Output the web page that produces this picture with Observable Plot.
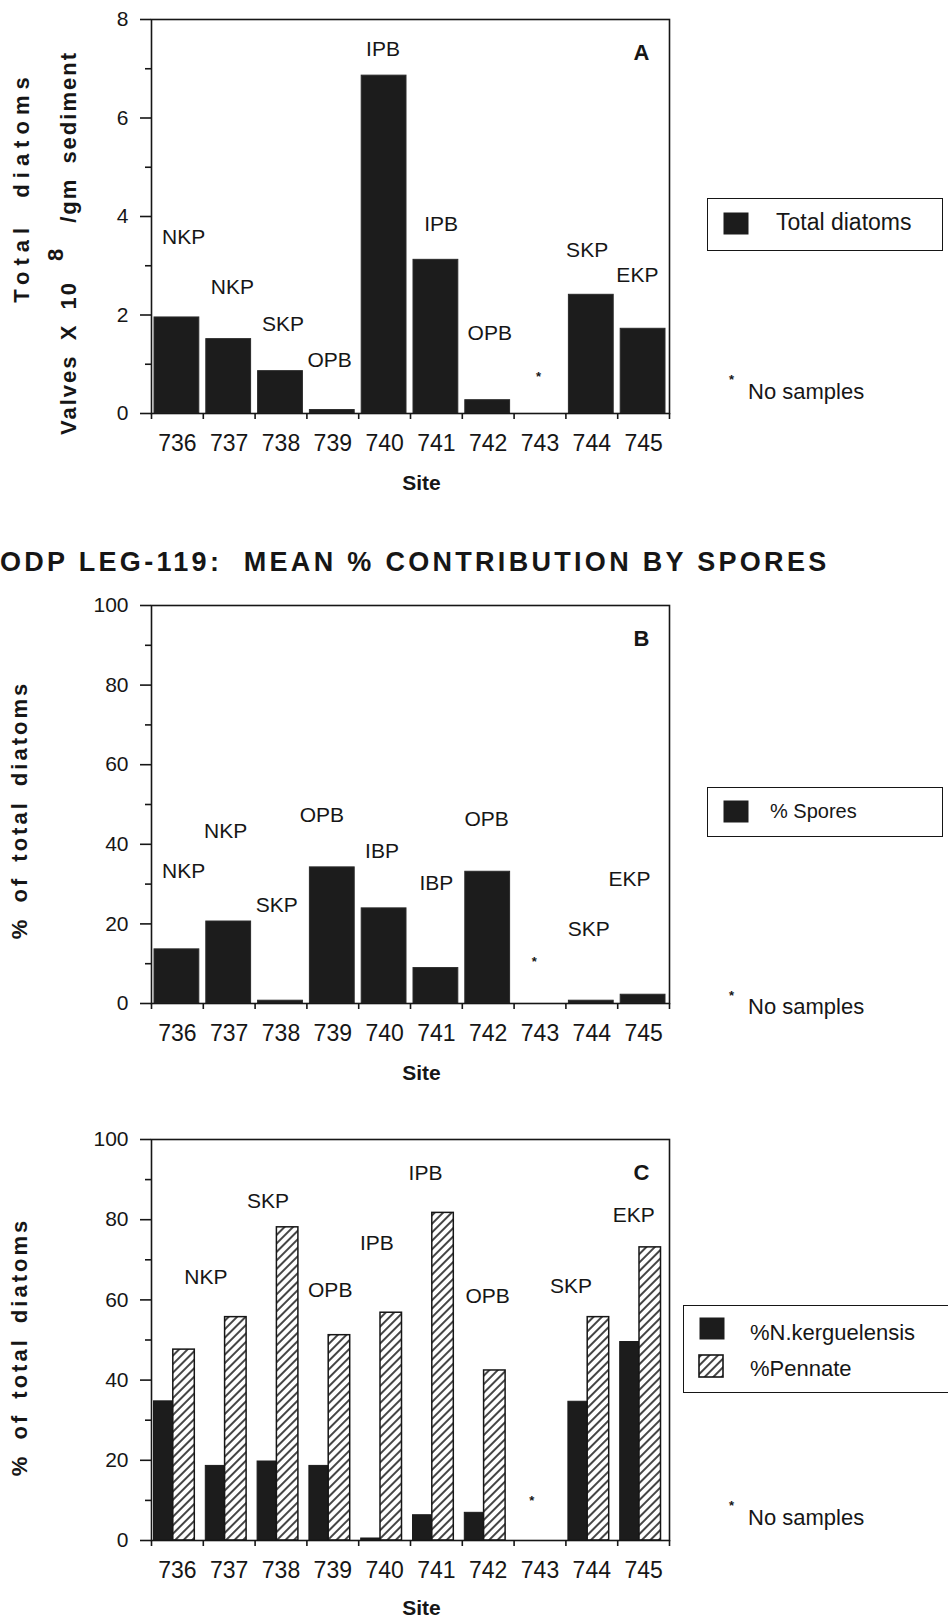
<!DOCTYPE html>
<html>
<head>
<meta charset="utf-8">
<script src="https://cdn.jsdelivr.net/npm/d3@7"></script>
<script src="https://cdn.jsdelivr.net/npm/@observablehq/plot@0.6"></script>
<style>
  body { margin: 0; background: #fff; }
  #page { position: relative; width: 948px; height: 1621px; overflow: hidden; background: #fff;
          font-family: "Liberation Sans", Arial, Helvetica, sans-serif; color: #161616; }
  .abs { position: absolute; white-space: nowrap; }
  .rot { position: absolute; white-space: nowrap; transform: translate(-50%, -50%) rotate(-90deg); font-weight: bold; line-height: 1; }
  svg g[aria-label="site tick label"] text { letter-spacing: 0.5px; }
  svg g[aria-label="province"] text { letter-spacing: -0.6px; }
  svg g[aria-label="site title"] text { letter-spacing: 3.5px; }
  .legend { position: absolute; border: 1.6px solid #161616; box-sizing: border-box; background: #fff; }
  .sw { position: absolute; }
</style>
</head>
<body>
<div id="page"></div>
<script>
// ---------------- data ----------------
const sites = [736, 737, 738, 739, 740, 741, 742, 743, 744, 745];

// Panel A: total diatoms (valves x 10^8 / gm sediment); 743 = no samples
const totalDiatoms = [1.95, 1.51, 0.86, 0.07, 6.86, 3.12, 0.27, null, 2.41, 1.72];
const provincesA  = ["NKP", "NKP", "SKP", "OPB", "IPB", "IPB", "OPB", "*", "SKP", "EKP"];
const labelLevelA = [3.58, 2.57, 1.82, 1.08, 7.4, 3.85, 1.62, 0.74, 3.31, 2.8];
const labelSiteA  = [736.12, 737.06, 738.04, 738.94, 739.97, 741.09, 742.03, 742.97, 743.91, 744.88];

// Panel B: % spores
const spores      = [13.6, 20.6, 0.7, 34.2, 23.9, 8.9, 33.1, null, 0.7, 2.2];
const provincesB  = ["NKP", "NKP", "SKP", "OPB", "IBP", "IBP", "OPB", "*", "SKP", "EKP"];
const labelLevelB = [33.3, 43.2, 24.7, 47.4, 38.2, 30.3, 46.3, 10.5, 18.6, 31.1];
const labelSiteB  = [736.12, 736.93, 737.92, 738.79, 739.95, 741.0, 741.97, 742.89, 743.94, 744.73];

// Panel C: %N.kerguelensis and %Pennate
const kerguelensis = [34.7, 18.6, 19.7, 18.6, 0.5, 6.3, 6.9, null, 34.6, 49.5];
const pennate      = [47.6, 55.7, 78.1, 51.2, 56.8, 81.7, 42.4, null, 55.7, 73.1];
const provincesC   = [null, "NKP", "SKP", "OPB", "IPB", "IPB", "OPB", "*", "SKP", "EKP"];
const labelLevelC  = [null, 65.7, 84.5, 62.4, 74.2, 91.7, 60.8, 9.9, 63.4, 81.2];
const labelSiteC   = [null, 736.55, 737.75, 738.95, 739.85, 740.79, 741.99, 742.84, 743.6, 744.81];

const yMajorA = [0, 2, 4, 6, 8];
const yMinorA = [1, 3, 5, 7];
const yMajorPct = [0, 20, 40, 60, 80, 100];
const yMinorPct = [10, 30, 50, 70, 90];

const title = "ODP LEG-119:  MEAN % CONTRIBUTION BY SPORES";

// ---------------- helpers ----------------
const INK = "#161616";
const FONT = "'Liberation Sans', Arial, Helvetica, sans-serif";
const page = document.getElementById("page");

function rows(values) {
  return sites.map((s, i) => ({site: s, value: values[i]})).filter(d => d.value != null);
}
function labelRows(texts, levels, xs) {
  return texts.map((t, i) => ({text: t, y: levels[i], x: xs[i]})).filter(d => d.text != null);
}

function panel({top, marginTop, innerHeight, marginBottom, yDomain, yMajor, yMinor, bars, labels, letter, siteDy}) {
  const edges = sites.map(s => s - 0.5).concat([sites[sites.length - 1] + 0.5]);
  const svg = Plot.plot({
    width: 948,
    height: marginTop + innerHeight + marginBottom,
    marginLeft: 151, marginRight: 279, marginTop, marginBottom,
    style: {fontFamily: FONT, fontSize: "21px", color: INK, background: "transparent", overflow: "visible"},
    x: {domain: [735.5, 745.5], label: null},
    y: {domain: yDomain, label: null},
    marks: [
      ...bars,
      Plot.frame({stroke: INK, strokeWidth: 1.6}),
      Plot.axisY({ticks: yMajor, tickSize: 11, tickPadding: 12, strokeWidth: 1.6, label: null, tickFormat: d3.format("d")}),
      Plot.axisY({ticks: yMinor, tickSize: 6, strokeWidth: 1.6, label: null, tickFormat: () => ""}),
      Plot.axisX({ticks: edges, tickSize: 6, strokeWidth: 1.6, label: null, tickFormat: () => ""}),
      Plot.axisX({ticks: sites, tickSize: 0, tickPadding: 21, label: null, fontSize: 23, tickFormat: d3.format("d"), ariaLabel: "site tick"}),
      Plot.text(labels.filter(d => d.text !== "*"), {x: "x", y: "y", text: "text", fontSize: 21, lineAnchor: "middle", fill: INK, ariaLabel: "province"}),
      Plot.text(labels.filter(d => d.text === "*"), {x: "x", y: "y", text: "text", fontSize: 13, fontWeight: "bold", lineAnchor: "middle", fill: INK}),
      Plot.text([letter], {frameAnchor: "top-right", text: d => d, dx: -28, dy: 33, fontSize: 22, fontWeight: "bold", textAnchor: "middle", lineAnchor: "middle", fill: INK}),
      Plot.text(["Site"], {frameAnchor: "bottom", text: d => d, dx: 11, dy: siteDy, fontSize: 21, fontWeight: "bold", lineAnchor: "middle", fill: INK, ariaLabel: "site title"})
    ]
  });
  svg.style.position = "absolute";
  svg.style.left = "0px";
  svg.style.top = top + "px";
  page.appendChild(svg);
  return svg;
}

function addDiv(html, cls, css) {
  const el = document.createElement("div");
  el.className = cls;
  el.innerHTML = html;
  Object.assign(el.style, css);
  page.appendChild(el);
  return el;
}

function hatchDefs(svgSel, id) {
  const defs = svgSel.insert("defs", ":first-child");
  const p = defs.append("pattern").attr("id", id).attr("patternUnits", "userSpaceOnUse")
    .attr("width", 6).attr("height", 6).attr("patternTransform", "rotate(45)");
  p.append("rect").attr("width", 6).attr("height", 6).attr("fill", "#fff");
  p.append("line").attr("x1", 3).attr("y1", -1).attr("x2", 3).attr("y2", 7).attr("stroke", INK).attr("stroke-width", 1.6);
}

// ---------------- panel A ----------------
panel({
  top: 0, marginTop: 19, innerHeight: 394, marginBottom: 90,
  yDomain: [0, 8], yMajor: yMajorA, yMinor: yMinorA, letter: "A", siteDy: 70,
  bars: [
    Plot.rectY(rows(totalDiatoms), {x1: d => d.site - 0.5, x2: d => d.site + 0.5, y1: 0, y2: "value",
      insetLeft: 3, insetRight: 4, fill: "#1c1c1c", stroke: "#2a2a2a", strokeWidth: 1})
  ],
  labels: labelRows(provincesA, labelLevelA, labelSiteA)
});

// ---------------- title ----------------
addDiv(title, "abs", {left: "0px", top: "549px", fontSize: "27px", lineHeight: "27px", fontWeight: "bold", letterSpacing: "3.3px", whiteSpace: "pre"});

// ---------------- panel B ----------------
panel({
  top: 590, marginTop: 15, innerHeight: 398, marginBottom: 90,
  yDomain: [0, 100], yMajor: yMajorPct, yMinor: yMinorPct, letter: "B", siteDy: 70,
  bars: [
    Plot.rectY(rows(spores), {x1: d => d.site - 0.5, x2: d => d.site + 0.5, y1: 0, y2: "value",
      insetLeft: 3, insetRight: 4, fill: "#1c1c1c", stroke: "#2a2a2a", strokeWidth: 1})
  ],
  labels: labelRows(provincesB, labelLevelB, labelSiteB)
});

// ---------------- panel C ----------------
const svgC = panel({
  top: 1100, marginTop: 39, innerHeight: 401, marginBottom: 81,
  yDomain: [0, 100], yMajor: yMajorPct, yMinor: yMinorPct, letter: "C", siteDy: 68,
  bars: [
    Plot.rectY(rows(kerguelensis), {x1: d => d.site - 0.5, x2: d => d.site + 0.5, y1: 0, y2: "value",
      insetLeft: 2.5, insetRight: 30, fill: "#1c1c1c", stroke: "#1c1c1c", strokeWidth: 1}),
    Plot.rectY(rows(pennate), {x1: d => d.site - 0.5, x2: d => d.site + 0.5, y1: 0, y2: "value",
      insetLeft: 21.8, insetRight: 8.5, fill: "url(#hatchC)", stroke: INK, strokeWidth: 1.5})
  ],
  labels: labelRows(provincesC, labelLevelC, labelSiteC)
});
hatchDefs(d3.select(svgC), "hatchC");

// ---------------- y-axis titles ----------------
addDiv("Total diatoms", "rot", {left: "22px", top: "187px", fontSize: "22px", letterSpacing: "6px", wordSpacing: "12px"});
addDiv("Valves X 10<span style=\"position:relative;top:-13px;margin:0 24px 0 20px\">8</span>/gm sediment", "rot",
  {left: "69px", top: "243px", fontSize: "22px", letterSpacing: "2px", wordSpacing: "6px"});
addDiv("% of total diatoms", "rot", {left: "20px", top: "810px", fontSize: "22px", letterSpacing: "3px", wordSpacing: "5px"});
addDiv("% of total diatoms", "rot", {left: "20px", top: "1347px", fontSize: "22px", letterSpacing: "3px", wordSpacing: "5px"});

// ---------------- legends ----------------
function legendBox(left, top, width, height, items) {
  const box = addDiv("", "legend", {left: left + "px", top: top + "px", width: width + "px", height: height + "px"});
  for (const it of items) {
    const sw = document.createElement("div");
    sw.className = "sw";
    sw.innerHTML = it.swatch;
    Object.assign(sw.style, {left: it.sx + "px", top: it.sy + "px"});
    box.appendChild(sw);
    const tx = document.createElement("div");
    tx.className = "abs";
    tx.textContent = it.label;
    Object.assign(tx.style, {left: it.tx + "px", top: it.ty + "px", fontSize: it.fs + "px", lineHeight: "1"});
    box.appendChild(tx);
  }
}
const solidSwatch = '<svg width="26" height="23"><rect x="0.5" y="0.5" width="25" height="22" fill="#1c1c1c"/></svg>';
const hatchSwatch = '<svg width="27" height="25"><defs><pattern id="hatchL" patternUnits="userSpaceOnUse" width="6" height="6" patternTransform="rotate(45)"><rect width="6" height="6" fill="#fff"/><line x1="3" y1="-1" x2="3" y2="7" stroke="#161616" stroke-width="1.6"/></pattern></defs><rect x="1" y="1" width="24" height="22" fill="url(#hatchL)" stroke="#161616" stroke-width="1.6"/></svg>';

legendBox(707, 198, 236, 53, [{swatch: solidSwatch, sx: 15, sy: 13, label: "Total diatoms", tx: 68, ty: 12, fs: 23}]);
addDiv("*", "abs", {left: "729px", top: "372px", fontSize: "13px", fontWeight: "bold"});
addDiv("No samples", "abs", {left: "748px", top: "381px", fontSize: "22px", lineHeight: "1"});

legendBox(707, 787, 236, 50, [{swatch: solidSwatch, sx: 15, sy: 12, label: "% Spores", tx: 62, ty: 13, fs: 20}]);
addDiv("*", "abs", {left: "729px", top: "988px", fontSize: "13px", fontWeight: "bold"});
addDiv("No samples", "abs", {left: "748px", top: "996px", fontSize: "22px", lineHeight: "1"});

legendBox(683, 1305, 290, 88, [
  {swatch: solidSwatch, sx: 15, sy: 11, label: "%N.kerguelensis", tx: 66, ty: 16, fs: 22},
  {swatch: hatchSwatch, sx: 14, sy: 48, label: "%Pennate", tx: 66, ty: 52, fs: 22}
]);
addDiv("*", "abs", {left: "729px", top: "1498px", fontSize: "13px", fontWeight: "bold"});
addDiv("No samples", "abs", {left: "748px", top: "1507px", fontSize: "22px", lineHeight: "1"});
</script>
</body>
</html>
